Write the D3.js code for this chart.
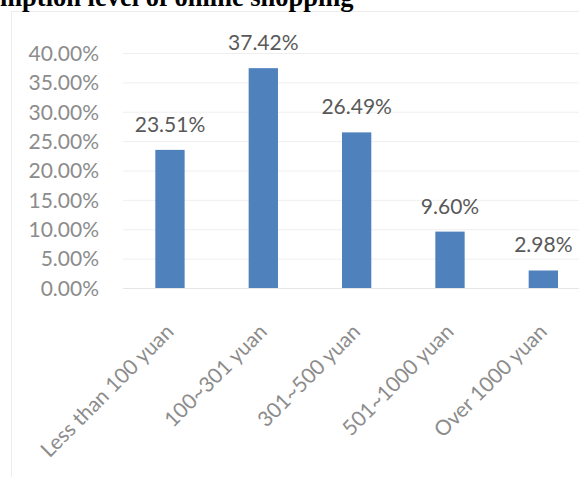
<!DOCTYPE html>
<html><head><meta charset="utf-8">
<script src="https://cdn.jsdelivr.net/npm/d3@7"></script>
<style>body{margin:0;background:#fff}svg{display:block}</style>
</head><body>
<script>
const categories = ["Less than 100 yuan","100~301 yuan","301~500 yuan","501~1000 yuan","Over 1000 yuan"];
const values = [23.51, 37.42, 26.49, 9.60, 2.98];
const yTicks = [0,5,10,15,20,25,30,35,40];
const title = "mption level of online shopping";

const W = 579, H = 477;
const svg = d3.select("body").append("svg").attr("width", W).attr("height", H);
const font = "Lato, 'Open Sans', sans-serif";

// chart frame
svg.append("rect").attr("x", 11.5).attr("y", 11.5).attr("width", 600).attr("height", 500)
  .attr("fill", "#fff").attr("stroke", "#ececec").attr("stroke-width", 1);

// title
svg.append("text").attr("x", 0).attr("y", 5.5).text(title)
  .attr("font-family", "'Liberation Serif','Times New Roman',serif").attr("font-weight", "bold")
  .attr("font-size", 26.5).attr("fill", "#000");

const x = d3.scaleBand().domain(categories).range([123.3, 590]).paddingInner(0.686).paddingOuter(0.343);
const y = d3.scaleLinear().domain([0, 40]).range([288, 53]);

// gridlines
svg.append("g").selectAll("line").data(yTicks).join("line")
  .attr("x1", 123).attr("x2", 590).attr("y1", d => y(d) + 0.5).attr("y2", d => y(d) + 0.5)
  .attr("stroke", d => d === 0 ? "#e6e6e6" : "#efefef").attr("stroke-width", 1);

// y axis labels
const yAxis = d3.axisLeft(y).tickValues(yTicks).tickFormat(d => d.toFixed(2) + "%").tickSize(0).tickPadding(0);
const ga = svg.append("g").attr("transform", "translate(99,0)").call(yAxis);
ga.select(".domain").remove();
ga.selectAll("text").attr("font-family", font).attr("font-size", 21).attr("fill", "#8c8c8c").attr("dy", "0.35em");

// bars
svg.append("g").selectAll("rect").data(values).join("rect")
  .attr("x", (d, i) => x(categories[i])).attr("width", x.bandwidth())
  .attr("y", d => y(d)).attr("height", d => y(0) - y(d)).attr("fill", "#4F81BD");

// value labels
svg.append("g").selectAll("text").data(values).join("text")
  .attr("x", (d, i) => x(categories[i]) + x.bandwidth() / 2).attr("y", d => y(d) - 18)
  .attr("text-anchor", "middle").attr("font-family", font).attr("font-size", 21).attr("fill", "#595959")
  .text(d => d.toFixed(2) + "%");

// category labels
const xAxis = d3.axisBottom(x).tickSize(0).tickPadding(0);
const gx = svg.append("g").attr("transform", "translate(0,288)").call(xAxis);
gx.select(".domain").remove();
gx.selectAll("text").attr("font-family", font).attr("font-size", 21).attr("fill", "#8c8c8c")
  .attr("text-anchor", "end").attr("dy", null).attr("y", null)
  .attr("transform", "translate(5,45) rotate(-45)");
</script>
</body></html>
